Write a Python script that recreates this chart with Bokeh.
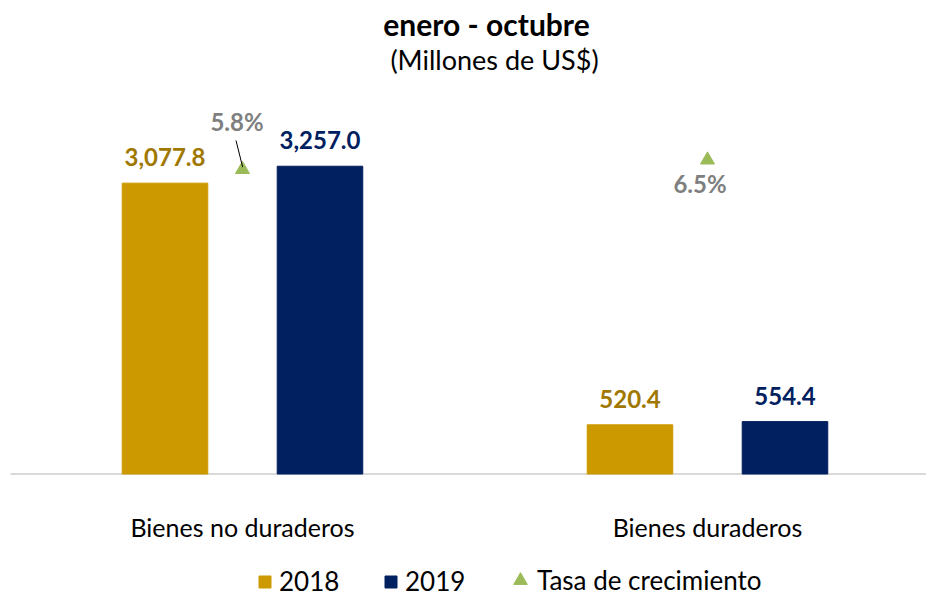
import numpy as np
from bokeh.plotting import figure
from bokeh.models import Range1d, Label, Legend, LegendItem, ColumnDataSource
from bokeh.core.properties import value
from bokeh.embed import file_html
from bokeh.resources import INLINE

# ---- data ----
categories = ["Bienes no duraderos", "Bienes duraderos"]
values_2018 = [3077.8, 520.4]
values_2019 = [3257.0, 554.4]
growth_rate = [5.8, 6.5]
series_names = ["2018", "2019", "Tasa de crecimiento"]
title_text = "enero - octubre"
subtitle_text = "(Millones de US$)"

# ---- style ----
GOLD = "#CC9900"
GOLD_TXT = "#A07800"
NAVY = "#002060"
GREEN = "#9BBB59"
GRAY = "#7F7F7F"
FONT = "Lato"

W, H = 926, 597
X0, X1 = -0.5204, 1.4710
Y0, Y1 = -1307, 5011
P0, P1 = -25.74, 18.25
idx = np.arange(len(categories))
dodge = 1 / 6
bar_w = 0.184
px_x = W / (X1 - X0)
px_y = H / (P1 - P0)

p = figure(width=W, height=H, output_backend="svg", toolbar_location=None,
           x_range=Range1d(X0, X1), y_range=Range1d(Y0, Y1),
           x_axis_location=None, y_axis_location=None,
           min_border=0, min_border_left=0, min_border_right=0,
           min_border_top=0, min_border_bottom=0)
p.extra_y_ranges = {"pct": Range1d(P0, P1)}
p.grid.visible = False
p.outline_line_color = None
p.background_fill_color = "white"
p.border_fill_color = "white"

src = ColumnDataSource(dict(
    x18=idx - dodge, x19=idx + dodge, xc=idx,
    v18=values_2018, v19=values_2019,
    t18=[f"{v:,.1f}" for v in values_2018],
    t19=[f"{v:,.1f}" for v in values_2019],
    cat=categories, zero=[0] * len(categories),
))

# baseline (category axis line)
p.segment(x0=[X0 + 10 / px_x], y0=[0], x1=[X1], y1=[0], line_color="#D9D9D9", line_width=2)

r18 = p.vbar(x="x18", top="v18", bottom=0, width=bar_w, color=GOLD, source=src)
r19 = p.vbar(x="x19", top="v19", bottom=0, width=bar_w, color=NAVY, source=src)

p.text(x="x18", y="v18", text="t18", source=src, text_align="center", text_baseline="middle",
       y_offset=-26, text_font=value(FONT), text_font_style="bold", text_font_size="24px",
       text_color=GOLD_TXT)
p.text(x="x19", y="v19", text="t19", source=src, text_align="center", text_baseline="middle",
       y_offset=-26, text_font=value(FONT), text_font_style="bold", text_font_size="24px",
       text_color=NAVY)

# category labels under the baseline
p.text(x="xc", y="zero", text="cat", source=src, text_align="center", text_baseline="middle",
       y_offset=53, text_font=value(FONT), text_font_size="25px", text_color="#000000")

# growth-rate triangles on secondary scale
rt = p.scatter(x=idx, y=growth_rate, marker="triangle", size=14, color=GREEN, y_range_name="pct")

label_offsets = [(-5.5, -47.5), (-7.5, 24)]
for i, g in enumerate(growth_rate):
    dx, dy = label_offsets[i]
    p.text(x=[idx[i]], y=[g], text=[f"{g:.1f}%"], y_range_name="pct",
           x_offset=dx, y_offset=dy, text_align="center", text_baseline="middle",
           text_font=value(FONT), text_font_style="bold", text_font_size="24px", text_color=GRAY)

# leader line for first growth label (pixel offsets converted to data units)
p.segment(x0=[idx[0] - 6.5 / px_x], y0=[growth_rate[0] + 29 / px_y],
          x1=[idx[0] + 0.2 / px_x], y1=[growth_rate[0] + 2.3 / px_y],
          y_range_name="pct", line_color="black", line_width=1)

# titles
p.add_layout(Label(x=486, y=H - 23, x_units="screen", y_units="screen", text=title_text,
                   text_align="center", text_baseline="middle", text_font=FONT,
                   text_font_style="bold", text_font_size="30px", text_color="#000000"))
p.add_layout(Label(x=494, y=H - 59, x_units="screen", y_units="screen", text=subtitle_text,
                   text_align="center", text_baseline="middle", text_font=FONT,
                   text_font_size="27px", text_color="#000000"))

# legends (separate so squares and triangle get their own glyph boxes)
common = dict(orientation="horizontal", padding=0, margin=0, border_line_color=None,
              background_fill_alpha=0, label_text_font=FONT, label_text_font_size="26px",
              label_text_color="#000000")
legA = Legend(items=[LegendItem(label=series_names[0], renderers=[r18])], location=(257, 0),
              glyph_width=15, glyph_height=15, label_standoff=7, **common)
legB = Legend(items=[LegendItem(label=series_names[1], renderers=[r19])], location=(383, 0),
              glyph_width=15, glyph_height=15, label_standoff=7, **common)
legC = Legend(items=[LegendItem(label=series_names[2], renderers=[rt])], location=(503, 0),
              glyph_width=34, glyph_height=34, label_standoff=0, **common)
for lg in (legA, legB, legC):
    p.add_layout(lg)

open("out.html", "w").write(file_html(p, INLINE))
